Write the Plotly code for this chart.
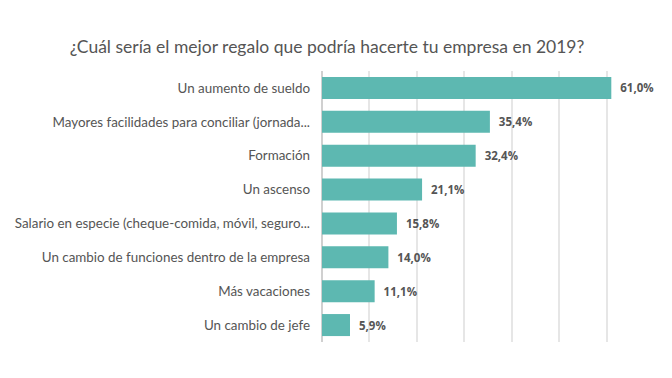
import plotly.graph_objects as go

categories = [
    "Un aumento de sueldo",
    "Mayores facilidades para conciliar (jornada...",
    "Formación",
    "Un ascenso",
    "Salario en especie (cheque-comida, móvil, seguro...",
    "Un cambio de funciones dentro de la empresa",
    "Más vacaciones",
    "Un cambio de jefe",
]
values = [61.0, 35.4, 32.4, 21.1, 15.8, 14.0, 11.1, 5.9]
title_text = "¿Cuál sería el mejor regalo que podría hacerte tu empresa en 2019?"

# page body has an 8px margin; figure sized/placed to compensate
W, H = 656, 362

fig = go.Figure(go.Bar(
    x=values,
    y=categories,
    orientation="h",
    marker=dict(color="#5db8b1", line=dict(width=0)),
    width=0.65,
    texttemplate="  %{x:.1f}%",
    textposition="outside",
    cliponaxis=False,
    textfont=dict(family="Open Sans", size=11.5, color="#555555", weight="bold"),
))

fig.update_layout(
    width=W, height=H,
    margin=dict(l=314, r=9.5, t=63, b=28),
    paper_bgcolor="white", plot_bgcolor="white",
    separators=",.",
    showlegend=False,
    title=dict(text=title_text, x=319 / W, xanchor="center", y=1 - 39 / H,
               yanchor="middle", yref="container", xref="container",
               font=dict(family="Lato", size=17.5, color="#555555")),
    xaxis=dict(range=[0, 70], dtick=10, showgrid=True, gridcolor="#e6e6e6",
               gridwidth=1.5, showticklabels=False, zeroline=True,
               zerolinecolor="#d0d0d0", zerolinewidth=1.5, fixedrange=True,
               automargin=False),
    yaxis=dict(categoryorder="array", categoryarray=categories[::-1],
               range=[-0.5, 7.5], ticklabelstandoff=11, automargin=False,
               tickfont=dict(family="Lato", size=13.4, color="#555555"),
               showgrid=False, zeroline=False, showline=False),
)

fig.write_html("out.html")
